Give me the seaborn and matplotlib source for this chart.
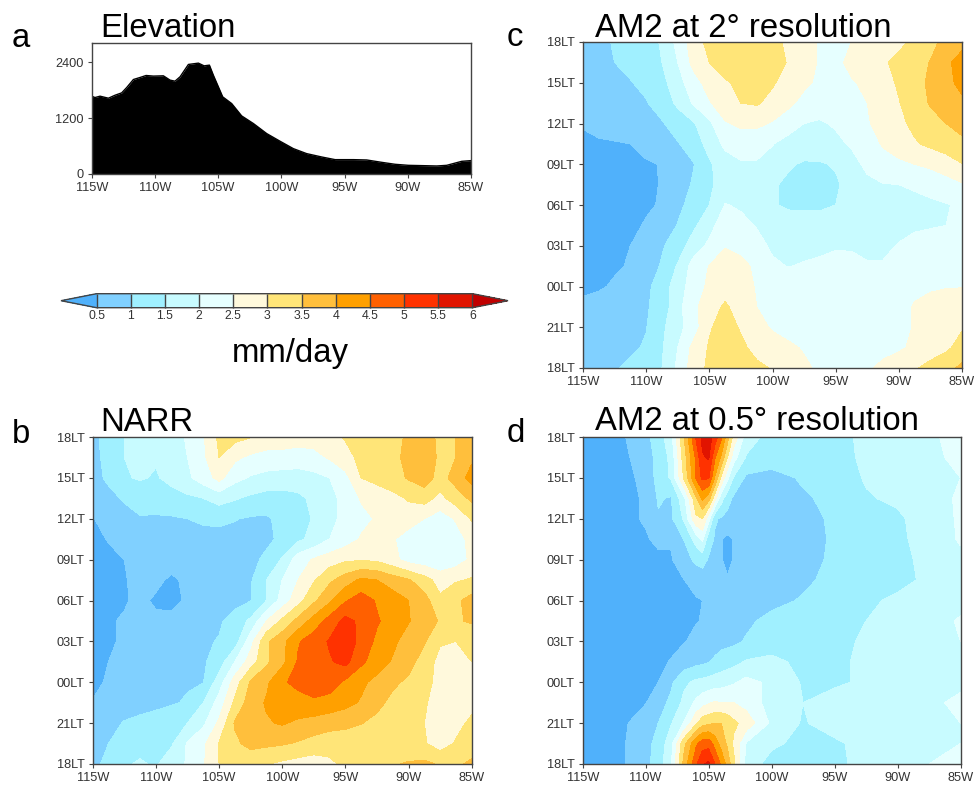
import numpy as np
import matplotlib
matplotlib.use('Agg')
import matplotlib.pyplot as plt
import seaborn as sns

# elevation transect
elev_lon = [-115, -114.74, -114.34, -113.68, -113.15, -112.63, -112.23, -111.7, -111.18, -110.7,
            -110.12, -109.33, -108.8, -108.41, -108.01, -107.35, -106.56, -106.11, -105.69, -105.38,
            -104.64, -103.93, -103.14, -102.21, -101.16, -100.1, -99.05, -98.0, -96.81, -95.75,
            -94.3, -93.25, -92.06, -91.0, -89.95, -88.77, -87.71, -86.92, -85.73, -85]
elev_m = [1669, 1640, 1669, 1626, 1690, 1740, 1855, 2027, 2070, 2113,
          2100, 2106, 2013, 1991, 2085, 2350, 2378, 2320, 2335, 2120,
          1655, 1511, 1246, 1082, 867, 702, 544, 437, 365, 308,
          308, 301, 250, 208, 186, 179, 172, 186, 272, 287]

# local time axis, hours since 18LT, rows below run from top (24) to bottom (0)
hours = [24, 22.5, 21, 19.5, 18, 16.5, 15, 13.5, 12, 10.5, 9, 7.5, 6, 4.5, 3, 1.5, 0]
lon_regular = [-115, -113.75, -112.5, -111.25, -110, -108.75, -107.5, -106.25, -105, -103.75, -102.5,
               -101.25, -100, -98.75, -97.5, -96.25, -95, -93.75, -92.5, -91.25, -90, -88.75, -87.5,
               -86.25, -85]
lon_fine = [-115, -112.5, -110, -109, -108, -107, -106, -105.5, -105, -104.5, -104, -103.5, -103, -102,
            -100, -97.5, -95, -92.5, -90, -87.5, -85]

narr_rain = [
    [.9, 1.15, 1.5, 1.6, 1.55, 1.8, 2.05, 2.45, 3.1, 3.15, 3.02, 2.85, 2.8, 2.7, 2.7, 2.85, 3.05, 3.2, 3.25, 3.4, 3.55, 3.6, 3.45, 3.5, 3.7],
    [.9, 1.1, 1.5, 1.6, 1.55, 1.8, 2.0, 2.4, 3.0, 2.6, 2.4, 2.3, 2.3, 2.3, 2.35, 2.55, 2.8, 3.15, 3.25, 3.4, 3.6, 3.65, 3.45, 3.5, 3.9],
    [.9, 1.05, 1.45, 1.55, 1.45, 1.65, 1.9, 2.25, 2.65, 2.15, 1.95, 1.85, 1.8, 1.75, 1.85, 2.0, 2.35, 3.0, 3.15, 3.3, 3.55, 3.75, 3.3, 3.7, 4.2],
    [.85, .92, 1.03, 1.15, 1.2, 1.3, 1.4, 1.5, 1.7, 1.55, 1.4, 1.3, 1.3, 1.4, 1.6, 1.9, 2.1, 2.55, 2.7, 2.85, 3.05, 3.2, 2.85, 3.25, 3.6],
    [.48, .65, .9, .97, .95, .95, 1.0, 1.08, 1.1, 1.02, .95, .93, 1.15, 1.4, 1.52, 1.9, 2.1, 2.35, 2.55, 2.7, 2.75, 2.5, 2.25, 2.55, 3.05],
    [.4, .52, .65, .72, .75, .78, .8, .83, .85, .88, .9, .9, 1.1, 1.4, 1.65, 2.0, 2.25, 2.55, 2.65, 2.55, 2.25, 2.15, 2.1, 2.3, 2.65],
    [.3, .42, .5, .65, .72, .75, .8, .82, .85, .85, .87, 1.1, 1.55, 2.25, 2.55, 2.75, 2.92, 2.95, 2.9, 2.65, 2.3, 2.2, 2.1, 2.25, 2.6],
    [.3, .38, .45, .7, .62, .4, .62, .78, .82, .85, .95, 1.5, 2.0, 2.5, 2.95, 3.4, 3.75, 4.1, 4.0, 3.75, 3.55, 3.2, 2.8, 2.95, 3.05],
    [.3, .38, .45, .62, .42, .4, .55, .7, .75, .85, .98, 1.5, 2.2, 2.8, 3.4, 3.9, 4.45, 4.75, 4.45, 4.25, 4.0, 3.7, 3.1, 3.4, 3.7],
    [.4, .45, .55, .65, .6, .6, .72, .85, .93, 1.2, 1.6, 2.5, 3.1, 3.65, 4.2, 4.7, 5.15, 4.9, 4.55, 4.3, 4.03, 3.75, 3.45, 3.45, 3.55],
    [.4, .45, .55, .68, .75, .8, .85, .93, 1.03, 1.25, 2.3, 3.4, 3.85, 4.45, 4.75, 5.05, 5.4, 4.8, 4.4, 4.1, 3.8, 3.55, 3.05, 3.0, 3.2],
    [.4, .5, .6, .7, .75, .8, .85, .93, 1.25, 2.0, 2.75, 3.4, 3.85, 4.55, 4.75, 4.95, 5.15, 4.6, 4.25, 3.95, 3.7, 3.25, 2.85, 2.95, 3.0],
    [.4, .55, .72, .8, .85, .9, .95, .98, 1.75, 2.75, 3.55, 3.9, 4.45, 4.6, 4.8, 4.75, 4.4, 4.1, 3.85, 3.6, 3.4, 3.15, 2.85, 2.75, 2.85],
    [.52, .65, .78, .85, .88, .95, 1.05, 1.5, 2.2, 3.1, 3.75, 4.05, 4.2, 4.35, 4.4, 4.3, 4.15, 3.95, 3.65, 3.35, 3.2, 3.05, 2.8, 2.65, 2.85],
    [.7, .85, 1.03, 1.1, 1.2, 1.35, 1.5, 1.9, 2.6, 3.55, 3.95, 3.95, 4.05, 3.9, 3.8, 3.7, 3.65, 3.52, 3.35, 3.1, 3.05, 3.0, 2.7, 2.85, 3.1],
    [.8, 1.0, 1.2, 1.35, 1.4, 1.45, 2.05, 2.4, 3.02, 3.4, 3.65, 3.6, 3.55, 3.45, 3.3, 3.2, 3.15, 3.1, 3.1, 3.1, 3.15, 3.05, 2.75, 3.05, 3.2],
    [.85, 1.15, 1.45, 1.55, 1.45, 1.75, 2.05, 2.45, 3.0, 3.25, 3.15, 3.02, 2.9, 2.8, 2.75, 2.9, 3.1, 3.25, 3.35, 3.45, 3.55, 3.6, 3.45, 3.4, 3.6],
]

am2_2deg_rain = [
    [.7, .85, 1.05, 1.15, 1.3, 1.55, 2.15, 2.75, 3.15, 3.35, 3.4, 3.35, 3.15, 2.9, 2.7, 2.45, 2.3, 2.5, 2.65, 2.8, 2.9, 3.1, 3.35, 3.65, 3.85],
    [.65, .82, 1.0, 1.1, 1.25, 1.5, 2.0, 2.65, 3.0, 3.2, 3.35, 3.4, 3.3, 2.95, 2.7, 2.45, 2.35, 2.65, 2.8, 2.95, 3.1, 3.3, 3.52, 3.9, 4.2],
    [.6, .72, .85, .98, 1.1, 1.35, 1.8, 2.3, 2.7, 2.95, 3.1, 3.2, 3.05, 2.8, 2.6, 2.4, 2.35, 2.45, 2.6, 2.85, 3.05, 3.3, 3.6, 3.85, 4.15],
    [.58, .68, .78, .88, .97, 1.2, 1.6, 2.05, 2.45, 2.8, 3.0, 3.05, 2.85, 2.6, 2.35, 2.2, 2.15, 2.25, 2.5, 2.8, 2.98, 3.2, 3.55, 3.7, 3.9],
    [.52, .6, .68, .76, .88, .96, 1.2, 1.45, 1.9, 2.45, 2.6, 2.6, 2.45, 2.25, 2.0, 1.95, 2.05, 2.2, 2.45, 2.7, 2.9, 3.1, 3.3, 3.5, 3.65],
    [.45, .46, .47, .5, .65, .8, .97, 1.2, 1.7, 2.1, 2.2, 2.2, 2.02, 1.8, 1.75, 1.8, 1.9, 2.05, 2.25, 2.55, 2.75, 2.95, 3.1, 3.25, 3.4],
    [.35, .37, .4, .43, .45, .52, .75, .98, 1.42, 1.8, 1.95, 1.95, 1.8, 1.55, 1.45, 1.45, 1.55, 1.85, 2.1, 2.3, 2.4, 2.5, 2.6, 2.75, 2.98],
    [.35, .37, .38, .4, .43, .52, .78, 1.05, 1.42, 1.7, 1.75, 1.7, 1.55, 1.42, 1.4, 1.4, 1.42, 1.7, 1.9, 1.98, 2.0, 2.05, 2.15, 2.3, 2.45],
    [.35, .37, .38, .42, .47, .52, .9, 1.15, 1.5, 2.02, 1.95, 1.75, 1.55, 1.42, 1.42, 1.42, 1.5, 1.65, 1.75, 1.8, 1.85, 1.9, 1.92, 1.97, 2.08],
    [.4, .41, .43, .45, .52, .75, 1.02, 1.4, 1.85, 2.25, 2.1, 1.98, 1.82, 1.75, 1.7, 1.7, 1.72, 1.75, 1.8, 1.85, 1.9, 1.95, 1.97, 2.0, 2.08],
    [.4, .42, .45, .5, .6, .95, 1.25, 1.75, 2.1, 2.45, 2.3, 2.1, 1.95, 1.9, 1.9, 1.92, 1.97, 1.97, 1.92, 1.93, 2.02, 2.1, 2.15, 2.2, 2.25],
    [.42, .44, .47, .52, .75, 1.05, 1.55, 2.2, 2.52, 2.85, 2.7, 2.35, 2.05, 1.99, 2.03, 2.07, 2.1, 2.08, 2.03, 2.03, 2.12, 2.2, 2.28, 2.33, 2.4],
    [.45, .47, .53, .65, .88, 1.25, 1.75, 2.25, 2.6, 2.85, 2.75, 2.45, 2.3, 2.25, 2.2, 2.2, 2.2, 2.2, 2.2, 2.25, 2.3, 2.35, 2.42, 2.47, 2.48],
    [.55, .6, .7, .8, .95, 1.2, 1.85, 2.35, 2.85, 3.05, 2.85, 2.5, 2.35, 2.25, 2.2, 2.2, 2.2, 2.2, 2.2, 2.25, 2.3, 2.55, 2.7, 2.75, 2.8],
    [.6, .68, .75, .85, .98, 1.4, 1.85, 2.25, 2.95, 3.2, 2.95, 2.65, 2.45, 2.3, 2.2, 2.15, 2.12, 2.12, 2.15, 2.2, 2.25, 2.55, 2.75, 2.85, 2.95],
    [.65, .75, .85, .92, 1.05, 1.45, 2.0, 2.65, 3.05, 3.2, 3.1, 2.85, 2.7, 2.6, 2.45, 2.3, 2.2, 2.2, 2.22, 2.3, 2.42, 2.6, 2.75, 2.9, 3.2],
    [.7, .82, .95, 1.1, 1.3, 1.5, 2.1, 2.75, 3.1, 3.25, 3.2, 3.1, 2.97, 2.8, 2.6, 2.4, 2.3, 2.25, 2.4, 2.65, 2.8, 2.95, 3.15, 3.35, 3.6],
]

am2_05deg_rain = [
    [.3, .3, .85, 1.25, 1.8, 3.4, 5.05, 5.6, 5.7, 5.3, 4.6, 3.7, 2.8, 1.75, 1.3, 1.3, 1.35, 1.6, 1.7, 1.95, 2.1],
    [.3, .3, .7, 1.2, 1.6, 3.2, 4.6, 5.45, 5.55, 4.55, 3.9, 3.0, 2.2, 1.45, 1.2, 1.15, 1.3, 1.6, 1.75, 1.9, 2.1],
    [.3, .3, .6, 1.2, 1.55, 3.0, 4.55, 5.1, 5.05, 3.95, 2.9, 2.1, 1.45, .9, .85, 1.05, 1.2, 1.55, 1.7, 1.85, 2.0],
    [.3, .3, .55, 1.05, .95, 1.8, 3.4, 4.1, 3.7, 2.7, 1.7, 1.2, .9, .8, .8, .95, 1.1, 1.45, 1.6, 1.85, 2.05],
    [.3, .3, .55, .95, .9, 1.55, 2.9, 3.0, 2.2, 1.05, .95, .85, .8, .8, .75, .9, 1.05, 1.35, 1.4, 1.8, 2.05],
    [.3, .3, .45, .6, .55, 1.0, 1.7, 2.1, 1.2, .95, .52, .4, .52, .8, .75, .85, 1.05, 1.25, 1.4, 1.7, 2.05],
    [.3, .3, .3, .4, .45, .8, 1.1, 1.2, .95, .8, .52, .4, .52, .75, .7, .8, 1.1, 1.2, 1.35, 1.65, 1.9],
    [.3, .3, .3, .3, .35, .48, .7, .72, .75, .75, .68, .53, .7, .72, .75, .9, 1.15, 1.3, 1.35, 1.6, 1.8],
    [.3, .3, .3, .3, .3, .35, .45, .5, .52, .6, .65, .68, .72, .78, .85, 1.05, 1.25, 1.4, 1.6, 1.7, 1.85],
    [.3, .3, .3, .3, .35, .4, .48, .52, .6, .7, .75, .8, .85, .9, 1.15, 1.3, 1.35, 1.5, 1.65, 1.8, 2.05],
    [.3, .3, .3, .35, .4, .47, .6, .65, .7, .75, .85, .87, .9, 1.05, 1.2, 1.3, 1.4, 1.55, 1.7, 1.85, 2.0],
    [.3, .3, .35, .42, .52, .7, .85, .9, .97, 1.1, 1.2, 1.28, 1.35, 1.55, 1.65, 1.35, 1.4, 1.6, 1.75, 1.85, 1.95],
    [.3, .3, .4, .5, .9, 1.4, 1.6, 1.65, 1.7, 1.75, 1.8, 1.87, 1.95, 2.15, 1.9, 1.45, 1.4, 1.6, 1.7, 1.85, 1.9],
    [.3, .3, .48, .8, 1.1, 1.6, 2.1, 2.3, 2.45, 2.55, 2.5, 2.5, 2.5, 2.3, 1.8, 1.5, 1.75, 1.8, 1.85, 1.9, 2.1],
    [.3, .3, .75, 1.0, 1.45, 2.0, 2.9, 3.3, 3.4, 3.5, 3.5, 3.35, 3.1, 2.8, 1.9, 1.45, 1.75, 1.85, 1.9, 1.95, 2.0],
    [.3, .3, .85, 1.15, 1.8, 3.3, 4.4, 4.75, 4.8, 4.3, 3.8, 3.4, 2.9, 1.95, 1.6, 1.35, 1.4, 1.7, 1.85, 1.95, 2.0],
    [.3, .3, .85, 1.25, 1.9, 3.6, 4.9, 5.45, 5.6, 5.0, 4.4, 3.8, 3.1, 1.8, 1.3, 1.25, 1.35, 1.7, 1.85, 2.0, 2.1],
]

rain_levels = [.5, 1, 1.5, 2, 2.5, 3, 3.5, 4, 4.5, 5, 5.5, 6]
rain_colors = ['#50b1fb', '#80d0ff', '#a0f0ff', '#c8fbff', '#e6ffff', '#fff9dc', '#ffe578',
               '#ffbf3c', '#ffa000', '#ff6000', '#ff3200', '#e11400', '#c00000']
lon_ticks = [-115, -110, -105, -100, -95, -90, -85]
lon_labels = ['115W', '110W', '105W', '100W', '95W', '90W', '85W']
time_ticks = [0, 3, 6, 9, 12, 15, 18, 21, 24]
time_labels = ['18LT', '21LT', '00LT', '03LT', '06LT', '09LT', '12LT', '15LT', '18LT']

W, H = 974, 785
sns.set_theme(style='ticks')
plt.rcParams['font.family'] = ['Liberation Sans', 'DejaVu Sans']
EDGE = '#444444'


def add_axes(fig, left, top, right, bottom):
    return fig.add_axes([left / W, 1 - bottom / H, (right - left) / W, (bottom - top) / H])


def label(fig, x, y, s, **kw):
    fig.text(x / W, 1 - y / H, s, fontsize=23.7, color='black', va='baseline', **kw)


def style_axes(ax):
    ax.set_xlim(-115, -85)
    ax.set_xticks(lon_ticks)
    ax.set_xticklabels(lon_labels)
    ax.set_xlabel('')
    ax.set_ylabel('')
    ax.tick_params(axis='both', labelsize=9.2, length=2.9, width=0.8, color=EDGE,
                   labelcolor='#333333')
    ax.tick_params(axis='x', pad=3)
    ax.tick_params(axis='y', pad=3)
    for side in ax.spines.values():
        side.set_visible(True)
        side.set_color(EDGE)
        side.set_linewidth(1.0)


def rain_panel(ax, lons, rain):
    cs = ax.contourf(lons, hours, np.array(rain), levels=rain_levels, colors=rain_colors,
                     extend='both')
    style_axes(ax)
    ax.set_ylim(0, 24)
    ax.set_yticks(time_ticks)
    ax.set_yticklabels(time_labels)
    return cs


fig = plt.figure(figsize=(W / 100, H / 100), dpi=100)

# a: elevation
ax_a = add_axes(fig, 91.7, 43, 471, 174)
sns.lineplot(x=elev_lon, y=elev_m, color='black', linewidth=1.0, ax=ax_a)
ax_a.fill_between(elev_lon, elev_m, 0, color='black', linewidth=0)
style_axes(ax_a)
ax_a.set_ylim(0, 2810)
ax_a.set_yticks([0, 1200, 2400])
ax_a.set_yticklabels(['0', '1200', '2400'])

# c, b, d: rain panels
ax_c = add_axes(fig, 583, 42, 962, 368)
rain_panel(ax_c, lon_regular, am2_2deg_rain)
ax_b = add_axes(fig, 92.7, 437, 471.7, 764)
cs = rain_panel(ax_b, lon_regular, narr_rain)
ax_d = add_axes(fig, 582.7, 437, 960.5, 764)
rain_panel(ax_d, lon_fine, am2_05deg_rain)

# colorbar, the triangles are part of the axes box
cax = add_axes(fig, 61, 293.7, 508, 307.7)
cbar = fig.colorbar(cs, cax=cax, orientation='horizontal', extend='both', extendfrac=0.0945,
                    drawedges=True, ticks=rain_levels)
cbar.ax.set_xticklabels(['0.5', '1', '1.5', '2', '2.5', '3', '3.5', '4', '4.5', '5', '5.5', '6'])
cbar.ax.tick_params(length=0, labelsize=8.8, labelcolor='#333333', pad=1.5)
cbar.dividers.set_color(EDGE)
cbar.dividers.set_linewidth(1.0)
cbar.outline.set_edgecolor(EDGE)
cbar.outline.set_linewidth(1.0)

label(fig, 232, 362, 'mm/day')
label(fig, 100, 37, 'Elevation')
label(fig, 595, 37, 'AM2 at 2\u00b0 resolution')
label(fig, 100, 431, 'NARR')
label(fig, 595, 430, 'AM2 at 0.5\u00b0 resolution')
label(fig, 12, 47, 'a')
label(fig, 507, 46, 'c')
label(fig, 12, 443, 'b')
label(fig, 507, 442, 'd')

fig.savefig('out.png', dpi=100)
